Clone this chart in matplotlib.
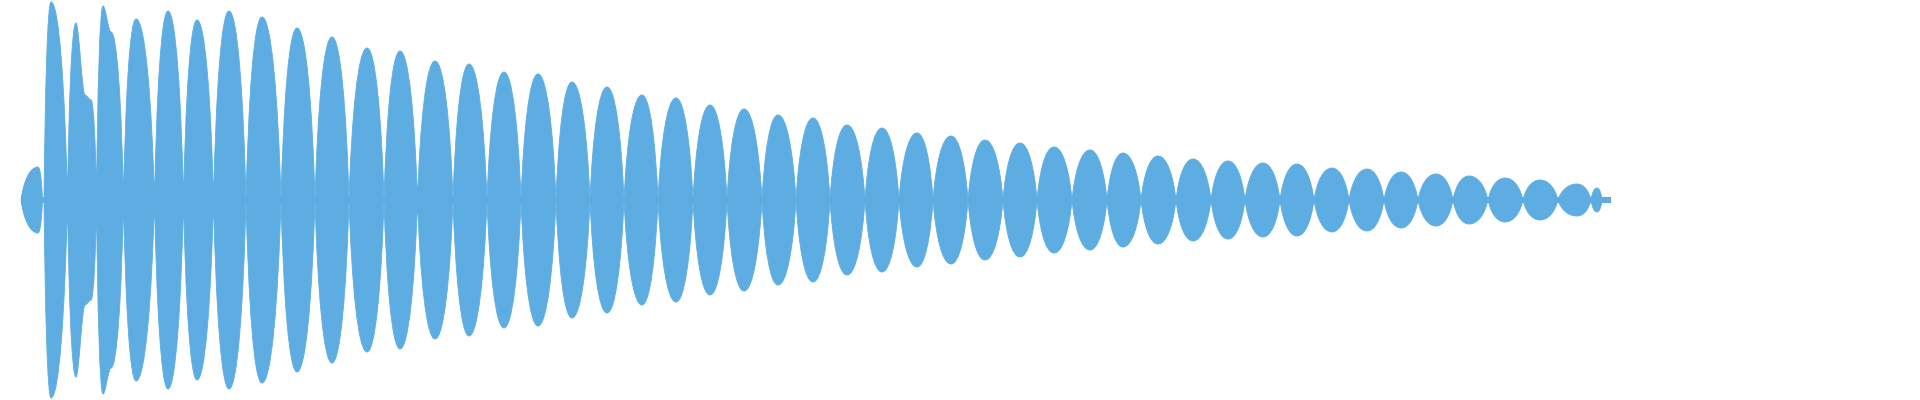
import numpy as np
import matplotlib
matplotlib.use('Agg')
import matplotlib.pyplot as plt
from matplotlib.path import Path
from matplotlib.patches import PathPatch

# Envelope key points of the waveform: zero crossings (amp 0) and lobe peaks,
# read off the picture (position along the track, amplitude in the same units)
env_pos = [21, 38, 42.5, 44, 51, 67.5, 76, 85, 91, 96.5, 103, 111, 123.5,
           136, 154.5, 168, 183.5, 197, 213.5, 229, 246, 262, 281, 297, 315,
           332, 349, 367, 384, 400, 417.5, 435, 453, 469, 487, 504, 521,
           538, 556, 572, 590, 607, 624, 642, 658, 676, 693, 710, 727,
           744, 762, 778, 796, 813, 830, 847, 865, 882, 899, 917, 933,
           951, 968, 985, 1003, 1020, 1037, 1054, 1072, 1090, 1107, 1123, 1141,
           1158, 1176, 1193, 1211, 1228, 1245, 1263, 1280, 1297, 1314, 1332, 1349,
           1367, 1384, 1401, 1418, 1436, 1453, 1469, 1488, 1505, 1523, 1540, 1558,
           1577, 1591, 1597, 1602, 1611]
env_amp = [0, 33, 0, 0, 198, 0, 177, 105, 100, 0, 194, 168, 0,
           181, 0, 189, 0, 180, 0, 189, 0, 183, 0, 172, 0,
           163, 0, 152, 0, 149, 0, 139, 0, 136, 0, 128, 0,
           126, 0, 118, 0, 113, 0, 105, 0, 102, 0, 95, 0,
           91, 0, 85, 0, 82, 0, 75, 0, 72, 0, 67, 0,
           64, 0, 60, 0, 57, 0, 53, 0, 50, 0, 47, 0,
           44, 0, 41, 0, 39, 0, 37, 0, 36, 0, 32, 0,
           31, 0, 28, 0, 26, 0, 24, 0, 22, 0, 20, 0,
           16, 0, 12, 0, 0]

wave_color = '#5DADE2'
center_band = 3  # thin line that joins the lobes


def envelope_path(xs, ys):
    # cubic pieces: rounded lobe bodies, pointed at zero crossings,
    # flat tangents at peaks
    verts = [(xs[0], ys[0])]
    codes = [Path.MOVETO]
    for x0, a0, x1, a1 in zip(xs[:-1], ys[:-1], xs[1:], ys[1:]):
        dx = x1 - x0
        if a0 == 0 and a1 == 0:
            verts.append((x1, a1))
            codes.append(Path.LINETO)
            continue
        if a0 == 0:
            c1 = (x0 + 0.15 * dx, 0.55 * a1)
            c2 = (x0 + 0.5 * dx, a1)
        elif a1 == 0:
            c1 = (x0 + 0.5 * dx, a0)
            c2 = (x0 + 0.85 * dx, 0.55 * a0)
        else:
            c1 = (x0 + dx / 3, a0)
            c2 = (x1 - dx / 3, a1)
        verts += [c1, c2, (x1, a1)]
        codes += [Path.CURVE4] * 3
    return verts, codes


xs = np.array(env_pos, dtype=float)
amps = np.array(env_amp, dtype=float)

top_v, top_c = envelope_path(xs, amps)
bot_v, bot_c = envelope_path(xs[::-1], -amps[::-1])
bot_c[0] = Path.LINETO
verts = top_v + bot_v + [top_v[0]]
codes = top_c + bot_c + [Path.CLOSEPOLY]

fig = plt.figure(figsize=(19.2, 4), dpi=100)
fig.patch.set_facecolor('white')
ax = fig.add_axes([0, 0, 1, 1])
ax.add_patch(PathPatch(Path(verts, codes), facecolor=wave_color,
                       edgecolor=wave_color, linewidth=0.6))
ax.fill_between([xs[0], xs[-1]], -center_band, center_band,
                color=wave_color, linewidth=0)
ax.set_xlim(0, 1920)
ax.set_ylim(-200, 200)
ax.axis('off')

fig.savefig('out.png', dpi=100, facecolor='white')
